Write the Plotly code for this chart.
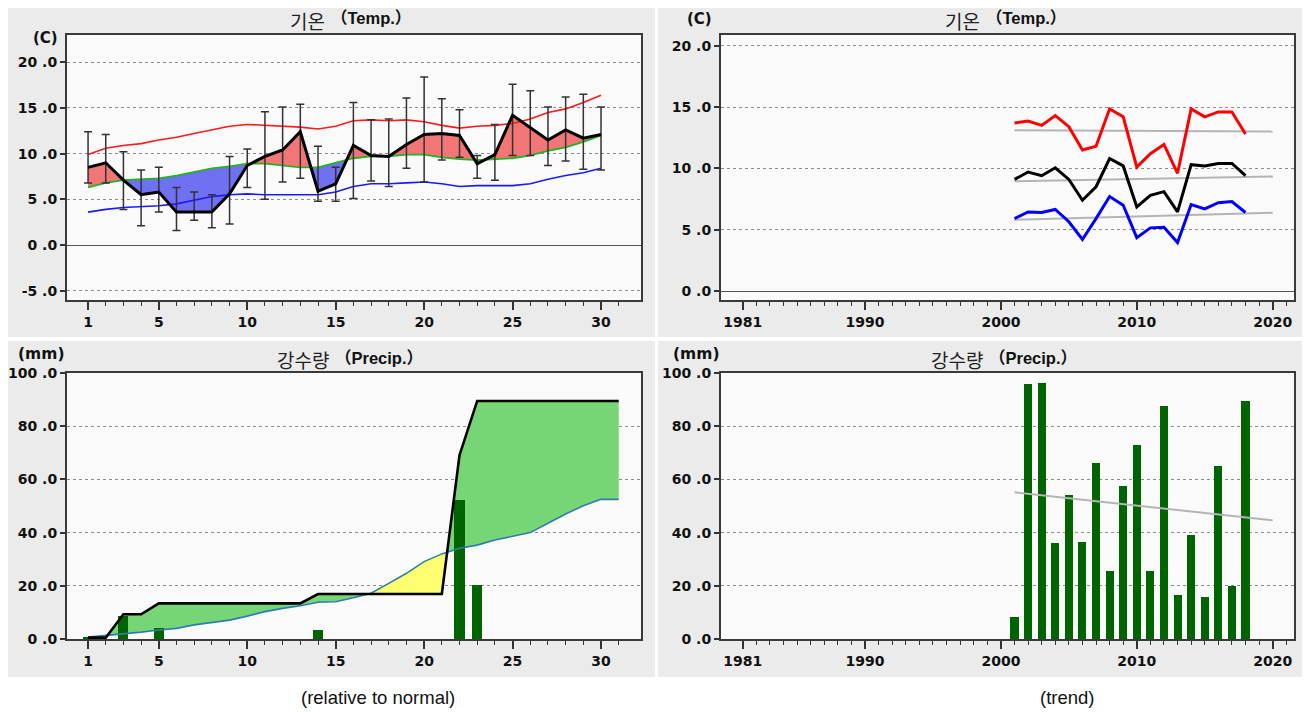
import numpy as np
import plotly.graph_objects as go

FONT = "DejaVu Sans"
KFONT = "Noto Sans CJK KR"
TFONT = "Liberation Sans, Noto Sans CJK KR"

# ---- daily temperature (relative to normal) ----
days = list(range(1, 31))
temp_mean = [8.5, 9.0, 7.1, 5.5, 5.8, 3.6, 3.6, 3.6, 5.6, 8.7,
             9.7, 10.4, 12.4, 5.9, 6.7, 10.9, 9.8, 9.7, 11.0, 12.1,
             12.2, 12.0, 8.9, 9.9, 14.2, 12.8, 11.5, 12.6, 11.7, 12.1]
temp_high = [12.4, 12.1, 10.2, 8.2, 8.5, 6.3, 5.8, 5.5, 9.7, 10.5,
             14.6, 15.1, 15.4, 10.8, 8.5, 15.6, 13.7, 13.8, 16.1, 18.4,
             16.0, 14.8, 9.8, 13.2, 17.6, 16.9, 15.1, 16.2, 16.5, 15.1]
temp_low = [6.8, 6.8, 3.9, 2.1, 3.6, 1.6, 2.7, 1.9, 2.3, 6.3,
            5.0, 6.9, 7.3, 4.8, 4.8, 5.1, 7.0, 6.4, 8.4, 6.9,
            9.3, 9.6, 7.3, 7.1, 9.8, 9.8, 8.7, 9.2, 8.3, 8.2]
norm_max = [9.9, 10.6, 10.9, 11.1, 11.5, 11.8, 12.2, 12.6, 13.0, 13.2,
            13.1, 13.0, 12.9, 12.7, 13.0, 13.6, 13.7, 13.6, 13.7, 13.5,
            13.1, 12.8, 13.0, 13.1, 13.3, 13.8, 14.5, 14.9, 15.6, 16.4]
norm_avg = [6.3, 6.8, 7.1, 7.2, 7.3, 7.6, 8.0, 8.4, 8.6, 8.9,
            8.9, 8.7, 8.5, 8.5, 9.0, 9.5, 9.7, 9.7, 9.9, 9.9,
            9.6, 9.4, 9.3, 9.4, 9.5, 9.8, 10.3, 10.7, 11.3, 12.0]
norm_min = [3.6, 3.9, 4.1, 4.2, 4.3, 4.5, 4.9, 5.3, 5.5, 5.6,
            5.5, 5.5, 5.5, 5.5, 5.8, 6.4, 6.7, 6.7, 6.8, 6.9,
            6.7, 6.4, 6.5, 6.5, 6.5, 6.7, 7.2, 7.6, 7.9, 8.4]

# ---- daily precipitation ----
pdays = list(range(1, 32))
precip_daily = [0.5, 0, 8.8, 0, 4.1, 0, 0, 0, 0, 0,
                0, 0, 0, 3.5, 0, 0, 0, 0, 0, 0,
                0, 52.2, 20.4, 0, 0, 0, 0, 0, 0, 0, 0]
precip_norm_cum = [0.7, 1.3, 1.9, 2.6, 3.4, 4.0, 5.3, 6.3, 7.1, 8.6,
                   10.3, 11.5, 12.5, 13.8, 14.0, 15.5, 17.2, 20.9, 24.7, 29.1,
                   32.0, 34.1, 35.3, 37.2, 38.5, 40.0, 43.5, 47.0, 50.1, 52.5, 52.5]

# ---- yearly trend ----
years = list(range(2001, 2019))
yr_max = [13.7, 13.85, 13.5, 14.3, 13.4, 11.5, 11.8, 14.85, 14.2, 10.1,
          11.2, 11.95, 9.6, 14.85, 14.2, 14.6, 14.6, 12.8]
yr_avg = [9.1, 9.7, 9.4, 10.05, 9.1, 7.4, 8.5, 10.8, 10.2, 6.85,
          7.8, 8.1, 6.45, 10.3, 10.2, 10.4, 10.4, 9.4]
yr_min = [5.9, 6.45, 6.4, 6.65, 5.65, 4.2, 5.9, 7.7, 7.0, 4.35,
          5.15, 5.2, 3.95, 7.05, 6.7, 7.2, 7.3, 6.4]
yr_precip = [8.4, 95.9, 96.2, 36.0, 54.0, 36.4, 66.0, 25.5, 57.5, 73.0,
             25.5, 87.6, 16.4, 39.0, 15.7, 64.9, 20.1, 89.6]

W, H = 1310, 713
OFF = 8  # the page puts the figure 8px in from the top-left corner


def px_x(v):
    return (v - OFF) / W


def px_y(v):
    return 1 - (v - OFF) / H


def split_cross(x, a, b):
    # insert the points where a and b cross so the two fills meet cleanly
    xs, aa, bb = [x[0]], [a[0]], [b[0]]
    for i in range(1, len(x)):
        d0 = a[i - 1] - b[i - 1]
        d1 = a[i] - b[i]
        if d0 * d1 < 0:
            t = d0 / (d0 - d1)
            xc = x[i - 1] + t * (x[i] - x[i - 1])
            yc = a[i - 1] + t * (a[i] - a[i - 1])
            xs.append(xc); aa.append(yc); bb.append(yc)
        xs.append(x[i]); aa.append(a[i]); bb.append(b[i])
    return np.array(xs), np.array(aa), np.array(bb)


fig = go.Figure()


def band(x, a, b, col_up, col_dn, xa, ya):
    xs, aa, bb = split_cross(x, a, b)
    for vals, col in ((np.maximum(aa, bb), col_up), (np.minimum(aa, bb), col_dn)):
        fig.add_trace(go.Scatter(x=xs, y=bb, mode="lines", line=dict(width=0),
                                 xaxis=xa, yaxis=ya, showlegend=False, hoverinfo="skip"))
        fig.add_trace(go.Scatter(x=xs, y=vals, mode="lines", line=dict(width=0),
                                 fill="tonexty", fillcolor=col, xaxis=xa, yaxis=ya,
                                 showlegend=False, hoverinfo="skip"))


# top-left: temperature vs normal
band(days, temp_mean, norm_avg, "rgb(242,118,118)", "rgb(112,112,242)", "x", "y")
fig.add_trace(go.Scatter(x=days, y=norm_max, mode="lines", line=dict(color="#ff1a1a", width=1.6), xaxis="x", yaxis="y"))
fig.add_trace(go.Scatter(x=days, y=norm_avg, mode="lines", line=dict(color="#22b422", width=1.8), xaxis="x", yaxis="y"))
fig.add_trace(go.Scatter(x=days, y=norm_min, mode="lines", line=dict(color="#1a1aff", width=1.6), xaxis="x", yaxis="y"))
err_up = [h - m for h, m in zip(temp_high, temp_mean)]
err_dn = [m - l for m, l in zip(temp_mean, temp_low)]
fig.add_trace(go.Scatter(x=days, y=temp_mean, mode="lines", line=dict(color="black", width=3),
                         error_y=dict(type="data", array=err_up, arrayminus=err_dn, color="#333",
                                      thickness=1.5, width=4),
                         xaxis="x", yaxis="y"))

# bottom-left: cumulative precipitation vs normal (fills on x3/y3, bars + lines on overlay x5/y5)
precip_cum = np.cumsum(precip_daily)
band(pdays, precip_cum, precip_norm_cum, "rgb(118,214,118)", "rgb(255,255,112)", "x3", "y3")
fig.add_trace(go.Bar(x=pdays, y=precip_daily, width=0.57, marker=dict(color="#006400", line=dict(width=0)),
                     xaxis="x5", yaxis="y5"))
fig.add_trace(go.Scatter(x=pdays, y=precip_norm_cum, mode="lines", line=dict(color="#2b7fa8", width=1.6),
                         xaxis="x5", yaxis="y5"))
fig.add_trace(go.Scatter(x=pdays, y=precip_cum, mode="lines", line=dict(color="black", width=2.6),
                         xaxis="x5", yaxis="y5"))

# top-right: yearly temperature trend
trend_x = np.array([2001, 2020])
for vals, col in ((yr_max, "#ff0000"), (yr_avg, "#000000"), (yr_min, "#0000ff")):
    k, c = np.polyfit(years, vals, 1)
    fig.add_trace(go.Scatter(x=trend_x, y=k * trend_x + c, mode="lines", line=dict(color="#b4b4b4", width=2),
                             xaxis="x2", yaxis="y2"))
    fig.add_trace(go.Scatter(x=years, y=vals, mode="lines", line=dict(color=col, width=3),
                             xaxis="x2", yaxis="y2"))

# bottom-right: yearly precipitation trend
fig.add_trace(go.Bar(x=years, y=yr_precip, width=0.59, marker=dict(color="#006400", line=dict(width=0)),
                     xaxis="x4", yaxis="y4"))
k, c = np.polyfit(years, yr_precip, 1)
fig.add_trace(go.Scatter(x=trend_x, y=k * trend_x + c, mode="lines", line=dict(color="#b4b4b4", width=2),
                         xaxis="x4", yaxis="y4"))

tickfont = dict(family=FONT, size=14, color="#111", weight="bold")


def xax(dom, anchor, rng, major, minor):
    return dict(domain=dom, anchor=anchor, range=rng, tickmode="array", tickvals=major,
                ticktext=[str(v) for v in major], ticks="outside", ticklen=8, tickwidth=1.5,
                tickcolor="#333",
                minor=dict(tickmode="array", tickvals=minor, ticks="outside", ticklen=4,
                           tickwidth=1.2, tickcolor="#333", showgrid=False),
                showline=True, linecolor="#3a3a3a", linewidth=2, mirror=True, automargin=False,
                showgrid=False, zeroline=False, tickfont=tickfont, fixedrange=True)


def yax(dom, anchor, rng, vals, zero):
    return dict(domain=dom, anchor=anchor, range=rng, tickmode="array", tickvals=vals,
                ticktext=[f"{v} .0" for v in vals], ticks="outside", ticklen=5, tickwidth=1.5,
                tickcolor="#333", showline=True, linecolor="#3a3a3a", linewidth=2, mirror=True,
                showgrid=True, gridcolor="#8c8c8c", griddash="dot", gridwidth=1,
                zeroline=zero, zerolinecolor="#555", zerolinewidth=1.2, automargin=False,
                tickfont=tickfont, fixedrange=True)


xl = [px_x(67), px_x(641)]
xr = [px_x(721), px_x(1294)]
yt = [px_y(300), px_y(35)]
yb = [px_y(639), px_y(373)]

day_major = [1, 5, 10, 15, 20, 25, 30]
day_minor = list(range(1, 32))
yr_major = [1981, 1990, 2000, 2010, 2020]
yr_minor = list(range(1981, 2022))
day_range = [-0.19, 32.26]

shapes = []
for x0, y0, x1, y1 in ((4, 4, 655, 337), (658, 4, 1308, 337), (4, 341, 655, 677), (658, 341, 1308, 677)):
    shapes.append(dict(type="rect", xref="paper", yref="paper", x0=px_x(x0), x1=px_x(x1),
                       y0=px_y(y1), y1=px_y(y0), fillcolor="#ebebeb", line=dict(width=0), layer="below"))
for xd, yd in ((xl, yt), (xr, yt), (xl, yb), (xr, yb)):
    shapes.append(dict(type="rect", xref="paper", yref="paper", x0=xd[0], x1=xd[1],
                       y0=yd[0], y1=yd[1], fillcolor="#fafafa", line=dict(width=0), layer="below"))

ann = []


def text(x, y, s, size, weight="normal", family=TFONT, anchor="center", color="#111"):
    ann.append(dict(x=px_x(x), y=px_y(y), xref="paper", yref="paper", text=s, showarrow=False,
                    xanchor=anchor, yanchor="middle", borderpad=0,
                    font=dict(family=family, size=size, color=color, weight=weight)))


# panel titles: Korean part right-aligned, bracketed English part left-aligned after it
for kx, ky, kor, eng in ((326, 18, "기온", "（Temp.）"), (981, 18, "기온", "（Temp.）"),
                         (330, 357, "강수량", "（Precip.）"), (984, 357, "강수량", "（Precip.）")):
    text(kx, ky + 2.5, kor, 19, "normal", KFONT, "right", "#222")
    text(kx + 4, ky + 0.5, f"<b>{eng}</b>", 16.5, "bold", TFONT, "left")

text(45, 38, "(C)", 15, "bold", FONT)
text(699, 19, "(C)", 15, "bold", FONT)
text(41, 354, "(mm)", 15.5, "bold", FONT)
text(696, 354, "(mm)", 15.5, "bold", FONT)
text(378, 697, "(relative to normal)", 18.5, "normal", "Liberation Sans")
text(1067, 697, "(trend)", 18.5, "normal", "Liberation Sans")

fig.update_layout(
    width=W, height=H, margin=dict(l=0, r=0, t=0, b=0, pad=0, autoexpand=False),
    paper_bgcolor="white", plot_bgcolor="rgba(0,0,0,0)",
    showlegend=False, bargap=0,
    xaxis=xax(xl, "y", day_range, day_major, day_minor),
    yaxis=yax(yt, "x", [-6.02, 22.99], [-5, 0, 5, 10, 15, 20], True),
    xaxis2=xax(xr, "y2", [1979.4, 2021.57], yr_major, yr_minor),
    yaxis2=yax(yt, "x2", [-0.73, 20.87], [0, 5, 10, 15, 20], True),
    xaxis3=xax(xl, "y3", day_range, day_major, day_minor),
    yaxis3=yax(yb, "x3", [0, 100], [0, 20, 40, 60, 80, 100], False),
    xaxis4=xax(xr, "y4", [1979.4, 2021.57], yr_major, yr_minor),
    yaxis4=yax(yb, "x4", [0, 100], [0, 20, 40, 60, 80, 100], False),
    xaxis5=dict(overlaying="x3", anchor="y5", range=day_range, visible=False, fixedrange=True),
    yaxis5=dict(overlaying="y3", anchor="x5", range=[0, 100], visible=False, fixedrange=True),
    shapes=shapes, annotations=ann,
)

fig.write_html("out.html")
